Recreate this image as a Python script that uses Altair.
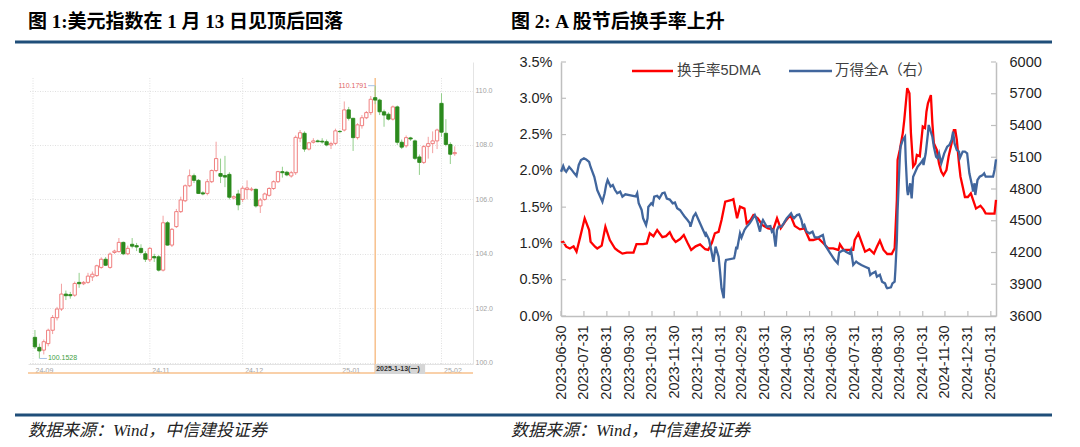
import altair as alt
import numpy as np
import pandas as pd

# ---------------- Figure 1: US dollar index daily candles ----------------
dxy_open = [100.93, 100.56, 100.46, 100.70, 101.19, 101.65, 101.97, 102.52, 102.50, 102.48,
            102.95, 102.90, 102.95, 103.15, 103.20, 103.50, 103.80, 103.50, 104.05, 104.08,
            104.42, 104.00, 104.35, 104.30, 104.20, 104.00, 103.78, 103.90, 103.89, 103.40,
            105.14, 104.32, 105.00, 105.55, 105.95, 106.50, 106.87, 106.70, 106.24, 106.22,
            106.65, 107.06, 106.95, 106.88, 106.92, 106.05, 106.20, 106.00, 106.36, 106.35,
            106.37, 105.76, 106.00, 106.15, 106.40, 106.65, 107.02, 107.00, 106.86, 106.98,
            108.25, 108.43, 107.85, 108.10, 108.15, 108.14, 108.12, 108.00, 108.06, 108.50,
            108.55, 109.29, 108.98, 108.27, 108.71, 109.00, 109.19, 109.74, 109.65, 109.22,
            109.13, 108.95, 109.40, 108.10, 107.97, 108.26, 108.15, 107.56, 107.36, 107.95,
            108.05, 108.15, 109.53, 108.43, 108.02, 107.68]
dxy_high = [101.20, 100.70, 100.85, 101.25, 101.75, 102.05, 102.90, 102.65, 102.60, 102.98,
            103.30, 103.00, 103.30, 103.35, 103.60, 103.87, 103.88, 104.05, 104.15, 104.58,
            104.45, 104.30, 104.58, 104.40, 104.35, 104.10, 104.25, 104.00, 103.95, 105.40,
            105.20, 104.95, 105.65, 106.10, 106.55, 107.10, 106.95, 106.75, 106.30, 106.75,
            107.10, 108.12, 107.50, 107.60, 107.00, 106.15, 106.35, 106.50, 106.70, 106.45,
            106.40, 106.05, 106.25, 106.45, 106.70, 107.05, 107.20, 107.05, 107.05, 108.35,
            108.55, 108.50, 108.10, 108.25, 108.20, 108.25, 108.20, 108.12, 108.60, 108.55,
            109.60, 109.40, 109.00, 108.80, 109.10, 109.25, 109.80, 110.1791, 109.70, 109.30,
            109.20, 109.45, 109.45, 108.20, 108.35, 108.30, 108.20, 107.65, 108.00, 108.30,
            108.50, 108.60, 109.90, 108.95, 108.10, 107.95]
dxy_low = [100.50, 100.1528, 100.30, 100.60, 101.05, 101.55, 101.90, 102.30, 102.35, 102.42,
           102.75, 102.85, 102.90, 103.00, 103.15, 103.45, 103.55, 103.45, 104.00, 104.05,
           103.95, 103.95, 104.20, 104.10, 104.00, 103.70, 103.70, 103.70, 103.35, 103.35,
           104.30, 104.25, 104.95, 105.50, 105.90, 106.45, 106.60, 106.20, 106.15, 106.15,
           106.60, 107.00, 106.60, 106.45, 106.00, 106.00, 105.60, 105.90, 106.00, 106.30,
           105.70, 105.50, 105.95, 106.10, 106.35, 106.60, 106.80, 106.85, 106.80, 106.90,
           108.10, 107.75, 107.80, 108.05, 108.10, 108.05, 107.95, 107.85, 108.00, 108.45,
           108.50, 108.90, 107.78, 108.20, 108.60, 108.95, 109.10, 109.50, 109.10, 108.67,
           108.90, 108.90, 108.00, 107.85, 107.90, 108.15, 107.45, 106.90, 107.30, 107.50,
           107.70, 107.85, 108.30, 107.95, 107.30, 107.60]
dxy_close = [100.58, 100.43, 100.77, 101.19, 101.66, 101.97, 102.52, 102.46, 102.46, 102.91,
             102.90, 102.95, 103.18, 103.25, 103.56, 103.80, 103.58, 103.99, 104.10, 104.42,
             104.00, 104.20, 104.28, 104.25, 104.05, 103.80, 104.20, 103.85, 103.40, 105.14,
             104.32, 104.90, 105.55, 105.98, 106.50, 106.87, 106.70, 106.22, 106.20, 106.65,
             107.06, 107.50, 106.85, 106.82, 106.08, 106.10, 105.80, 106.41, 106.42, 106.38,
             105.76, 105.98, 106.20, 106.40, 106.65, 107.02, 106.98, 106.90, 106.98, 108.28,
             108.45, 107.85, 108.08, 108.15, 108.12, 108.11, 108.00, 108.05, 108.52, 108.49,
             109.29, 108.98, 108.27, 108.74, 109.00, 109.19, 109.68, 109.65, 109.22, 109.10,
             108.95, 109.40, 108.10, 107.92, 108.27, 108.22, 107.51, 107.36, 107.94, 108.05,
             108.15, 108.55, 108.47, 108.02, 107.66, 107.72]

dxy_tick_pos = [-0.44, 26, 47, 69, 92]
dxy_tick_lbl = ["24-09", "24-11", "24-12", "25-01", "25-02"]
dxy_y_ticks = [100, 102, 104, 106, 108, 110]
peak_idx, peak_val = 77, 110.1791
trough_idx, trough_val = 1, 100.1528
marked_idx, marked_lbl = 77, "2025-1-13(一)"

# ---------------- Figure 2: A-share turnover vs Wind All A ----------------
turn_dates = ["2023-06-30", "2023-07-03", "2023-07-07", "2023-07-12", "2023-07-17", "2023-07-21", "2023-07-26", "2023-08-01", "2023-08-07", "2023-08-09",
              "2023-08-15", "2023-08-18", "2023-08-24", "2023-08-29", "2023-09-04", "2023-09-11", "2023-09-15", "2023-09-21", "2023-09-27", "2023-10-06",
              "2023-10-10", "2023-10-19", "2023-10-24", "2023-10-28", "2023-11-02", "2023-11-07", "2023-11-14", "2023-11-19", "2023-11-24", "2023-11-28",
              "2023-12-02", "2023-12-08", "2023-12-13", "2023-12-18", "2023-12-23", "2023-12-29", "2024-01-04", "2024-01-11", "2024-01-15", "2024-01-20",
              "2024-01-24", "2024-01-29", "2024-02-02", "2024-02-07", "2024-02-16", "2024-02-18", "2024-02-23", "2024-02-27", "2024-03-04", "2024-03-07",
              "2024-03-12", "2024-03-16", "2024-03-22", "2024-03-28", "2024-04-05", "2024-04-12", "2024-04-17", "2024-04-22", "2024-04-28", "2024-05-05",
              "2024-05-11", "2024-05-18", "2024-05-24", "2024-05-31", "2024-06-05", "2024-06-12", "2024-06-19", "2024-06-25", "2024-07-02", "2024-07-09",
              "2024-07-11", "2024-07-16", "2024-07-29", "2024-07-31", "2024-08-05", "2024-08-09", "2024-08-14", "2024-08-20", "2024-08-26", "2024-08-30",
              "2024-09-03", "2024-09-08", "2024-09-13", "2024-09-19", "2024-09-23", "2024-09-26", "2024-09-27", "2024-09-30", "2024-10-04", "2024-10-06",
              "2024-10-10", "2024-10-13", "2024-10-15", "2024-10-18", "2024-10-21", "2024-10-23", "2024-10-27", "2024-10-31", "2024-11-03", "2024-11-05",
              "2024-11-07", "2024-11-11", "2024-11-13", "2024-11-15", "2024-11-19", "2024-11-22", "2024-11-25", "2024-11-28", "2024-12-02", "2024-12-05",
              "2024-12-09", "2024-12-12", "2024-12-14", "2024-12-16", "2024-12-19", "2024-12-21", "2024-12-24", "2024-12-27", "2024-12-31", "2025-01-04",
              "2025-01-07", "2025-01-11", "2025-01-14", "2025-01-17", "2025-01-21", "2025-01-24", "2025-01-29", "2025-02-05", "2025-02-07"]
turn_pct = [1.01, 1.02, 0.955, 0.93, 0.96, 0.886, 1.09, 1.346, 1.185, 1.024,
            0.955, 0.93, 0.97, 1.23, 1.047, 0.93, 0.90, 0.86, 0.874, 0.874,
            0.99, 0.99, 1.00, 1.14, 1.10, 1.185, 1.086, 1.10, 1.153, 1.07,
            1.02, 1.06, 1.116, 1.01, 0.91, 0.96, 0.987, 0.92, 0.91, 1.01,
            1.14, 1.16, 1.323, 1.575, 1.60, 1.61, 1.346, 1.506, 1.48, 1.277,
            1.32, 1.39, 1.346, 1.254, 1.208, 1.194, 1.346, 1.208, 1.30, 1.39,
            1.24, 1.194, 1.208, 1.047, 1.047, 1.07, 1.00, 0.933, 0.933, 0.91,
            0.987, 0.91, 0.91, 1.047, 1.14, 1.024, 0.886, 0.92, 0.86, 0.955,
            1.038, 0.91, 0.854, 0.854, 0.933, 1.60, 2.15, 2.29, 2.52, 2.70,
            3.14, 3.07, 2.52, 2.06, 2.10, 2.22, 2.20, 2.61, 2.59, 2.815,
            2.93, 3.045, 2.655, 2.38, 2.29, 2.10, 1.99, 1.94, 2.01, 2.20,
            2.38, 2.56, 2.56, 2.43, 2.10, 1.92, 1.78, 1.64, 1.64, 1.69,
            1.60, 1.48, 1.50, 1.52, 1.47, 1.415, 1.41, 1.41, 1.60]

wind_dates = ["2023-06-30", "2023-07-03", "2023-07-05", "2023-07-07", "2023-07-11", "2023-07-14", "2023-07-18", "2023-07-21", "2023-07-24", "2023-07-27",
              "2023-07-31", "2023-08-03", "2023-08-07", "2023-08-09", "2023-08-14", "2023-08-16", "2023-08-18", "2023-08-22", "2023-08-25", "2023-08-28",
              "2023-08-30", "2023-09-01", "2023-09-05", "2023-09-08", "2023-09-11", "2023-09-14", "2023-09-18", "2023-09-21", "2023-09-25", "2023-10-02",
              "2023-10-09", "2023-10-11", "2023-10-13", "2023-10-17", "2023-10-19", "2023-10-23", "2023-10-25", "2023-10-26", "2023-10-30", "2023-11-01",
              "2023-11-03", "2023-11-07", "2023-11-10", "2023-11-14", "2023-11-17", "2023-11-20", "2023-11-24", "2023-11-28", "2023-12-01", "2023-12-04",
              "2023-12-08", "2023-12-11", "2023-12-14", "2023-12-18", "2023-12-21", "2023-12-22", "2023-12-26", "2023-12-29", "2024-01-02", "2024-01-05",
              "2024-01-08", "2024-01-11", "2024-01-12", "2024-01-16", "2024-01-19", "2024-01-22", "2024-01-25", "2024-01-29", "2024-01-31", "2024-02-02",
              "2024-02-05", "2024-02-06", "2024-02-07", "2024-02-08", "2024-02-19", "2024-02-20", "2024-02-22", "2024-02-23", "2024-02-27", "2024-02-29",
              "2024-03-04", "2024-03-07", "2024-03-11", "2024-03-14", "2024-03-18", "2024-03-20", "2024-03-22", "2024-03-25", "2024-03-27", "2024-03-29",
              "2024-04-03", "2024-04-08", "2024-04-10", "2024-04-12", "2024-04-15", "2024-04-17", "2024-04-19", "2024-04-23", "2024-04-26", "2024-04-30",
              "2024-05-06", "2024-05-08", "2024-05-10", "2024-05-14", "2024-05-17", "2024-05-20", "2024-05-22", "2024-05-24", "2024-05-27", "2024-05-31",
              "2024-06-04", "2024-06-07", "2024-06-12", "2024-06-18", "2024-06-21", "2024-06-25", "2024-06-28", "2024-07-04", "2024-07-08", "2024-07-10",
              "2024-07-16", "2024-07-19", "2024-07-24", "2024-07-26", "2024-07-29", "2024-08-02", "2024-08-05", "2024-08-09", "2024-08-14", "2024-08-19",
              "2024-08-21", "2024-08-23", "2024-08-28", "2024-08-30", "2024-09-03", "2024-09-06", "2024-09-10", "2024-09-12", "2024-09-13", "2024-09-18",
              "2024-09-20", "2024-09-23", "2024-09-24", "2024-09-26", "2024-09-27", "2024-09-30", "2024-10-01", "2024-10-04", "2024-10-07", "2024-10-08",
              "2024-10-10", "2024-10-11", "2024-10-14", "2024-10-16", "2024-10-18", "2024-10-21", "2024-10-24", "2024-10-28", "2024-10-31", "2024-11-01",
              "2024-11-04", "2024-11-07", "2024-11-08", "2024-11-13", "2024-11-15", "2024-11-18", "2024-11-20", "2024-11-22", "2024-11-25", "2024-11-27",
              "2024-11-29", "2024-12-03", "2024-12-06", "2024-12-09", "2024-12-11", "2024-12-13", "2024-12-16", "2024-12-19", "2024-12-20", "2024-12-24",
              "2024-12-27", "2024-12-30", "2025-01-02", "2025-01-06", "2025-01-07", "2025-01-09", "2025-01-10", "2025-01-13", "2025-01-16", "2025-01-20",
              "2025-01-22", "2025-01-24", "2025-01-27", "2025-02-03", "2025-02-05", "2025-02-07"]
wind_a = [4963, 5017, 4980, 4963, 5008, 4985, 4948, 4923, 5027, 5074,
          5090, 5080, 5055, 5008, 4916, 4854, 4790, 4727, 4680, 4760,
          4838, 4885, 4823, 4838, 4790, 4760, 4775, 4728, 4750, 4740,
          4730, 4760, 4665, 4602, 4523, 4460, 4523, 4630, 4665, 4650,
          4728, 4735, 4712, 4760, 4765, 4710, 4700, 4665, 4672, 4618,
          4600, 4570, 4540, 4507, 4477, 4444, 4540, 4570, 4507, 4460,
          4413, 4365, 4380, 4325, 4224, 4113, 4255, 4160, 4019, 3862,
          3767, 3940, 4098, 4130, 4145, 4176, 4255, 4230, 4381, 4340,
          4413, 4444, 4475, 4507, 4554, 4520, 4475, 4397, 4475, 4507,
          4444, 4450, 4397, 4413, 4255, 4413, 4444, 4444, 4475, 4523,
          4570, 4540, 4523, 4554, 4560, 4507, 4444, 4460, 4397, 4381,
          4397, 4343, 4343, 4365, 4271, 4224, 4192, 4129, 4098, 4200,
          4224, 4208, 4190, 4224, 4082, 4114, 4098, 4082, 4066, 4050,
          3987, 4000, 4019, 3972, 3990, 3924, 3908, 3871, 3862, 3871,
          3908, 3924, 4035, 4318, 4602, 5105, 5200, 5263, 5294, 5074,
          4790, 4743, 4854, 4712, 4916, 4963, 5011, 5043, 5074, 5027,
          5137, 5326, 5405, 5294, 5200, 5105, 5090, 5137, 5043, 5090,
          5137, 5200, 5216, 5263, 5342, 5230, 5168, 5153, 5090, 5153,
          5153, 5137, 4948, 4822, 4775, 4854, 4743, 4885, 4916, 4932,
          4948, 4916, 4916, 4916, 4980, 5080]

month_ends = ["2023-06-30", "2023-07-31", "2023-08-31", "2023-09-30", "2023-10-31", "2023-11-30",
              "2023-12-31", "2024-01-31", "2024-02-29", "2024-03-31", "2024-04-30", "2024-05-31",
              "2024-06-30", "2024-07-31", "2024-08-31", "2024-09-30", "2024-10-31", "2024-11-30",
              "2024-12-31", "2025-01-31"]
pct_ticks = [0.0, 0.5, 1.0, 1.5, 2.0, 2.5, 3.0, 3.5]
wind_ticks = [3600, 3900, 4200, 4500, 4800, 5100, 5400, 5700, 6000]
x_start, x_end = "2023-06-30", "2025-02-07"

title_left = "图 1:美元指数在 1 月 13 日见顶后回落"
title_right = "图 2: A 股节后换手率上升"
source_text = "数据来源：Wind，中信建投证券"
legend_red = "换手率5DMA"
legend_blue = "万得全A（右）"

# ---------------- layout & style ----------------
W1, H1 = 445, 302
W2, H2 = 435, 254
SANS = "Liberation Sans, Noto Sans CJK SC"
SERIF = "Liberation Serif, Noto Sans CJK SC"
AX = "#bfbfbf"
RED = "#ff0000"
BLUE = "#41669d"
NAVY = "#1f4e79"
one = pd.DataFrame({"k": [0]})

# ================= left panel =================
candles = pd.DataFrame({"idx": np.arange(len(dxy_open)), "open": dxy_open, "high": dxy_high,
                        "low": dxy_low, "close": dxy_close})
candles["dir"] = np.where(candles["close"] >= candles["open"], "up", "down")

xL_scale = alt.Scale(domain=[-0.44, 98.0], nice=False, zero=False)
yL_scale = alt.Scale(domain=[99.95, 111.05], nice=False, zero=False)
lbl_expr = f"'{dxy_tick_lbl[-1]}'"
for v, l in zip(reversed(dxy_tick_pos[:-1]), reversed(dxy_tick_lbl[:-1])):
    lbl_expr = f"abs(datum.value - ({v})) < 0.5 ? '{l}' : {lbl_expr}"
xL_axis = alt.Axis(values=dxy_tick_pos, labelExpr=lbl_expr, title=None, grid=False, ticks=False,
                   domainColor="#e4e4e4", labelColor="#a3a3a3", labelFont="Liberation Sans",
                   labelFontSize=7, labelAlign="left", labelBaseline="top", labelOffset=2,
                   labelPadding=2, labelOverlap=False, labelFlush=False)
yL_axis = alt.Axis(orient="right", values=dxy_y_ticks, format=".1f", title=None, grid=True,
                   gridColor="#e0e0e0", gridDash=[1, 1.5], ticks=False, domainColor="#e4e4e4",
                   labelColor="#a3a3a3", labelFont="Liberation Sans", labelFontSize=7,
                   labelPadding=2, labelOverlap=False, labelFlush=False)


def xL(field="idx"):
    return alt.X(f"{field}:Q", scale=xL_scale, axis=xL_axis)


def yL(field):
    return alt.Y(f"{field}:Q", scale=yL_scale, axis=yL_axis)


anchor = alt.Chart(one).mark_rect(color="white").encode(
    x=alt.value(-20), x2=alt.value(-19), y=alt.value(-54), y2=alt.value(-53))

vgrid = alt.Chart(pd.DataFrame({"idx": dxy_tick_pos})).mark_rule(
    color="#e0e0e0", strokeDash=[1, 1.5], strokeWidth=1).encode(
    x=xL(), y=alt.value(16), y2=alt.value(H1))

marked = pd.DataFrame({"idx": [marked_idx], "lbl": [marked_lbl]})
orange_v = alt.Chart(marked).mark_rule(color="#f7c08c", strokeWidth=1.5).encode(
    x=xL(), y=alt.value(16), y2=alt.value(311))
orange_h = alt.Chart(one).mark_rule(color="#f7c08c", strokeWidth=1.5).encode(
    x=alt.value(0), x2=alt.value(W1), y=alt.value(311))
mark_box = alt.Chart(marked).transform_calculate(idx_end="datum.idx + 11.3").mark_rect(
    color="#d6d6d6").encode(x=xL(), x2="idx_end:Q", y=alt.value(302), y2=alt.value(312))
mark_txt = alt.Chart(marked).mark_text(align="left", baseline="middle", fontSize=7,
                                       fontWeight="bold", font=SANS, color="#333333", dx=1).encode(
    x=xL(), y=alt.value(307), text="lbl:N")

wick = alt.Chart(candles).mark_rule(strokeWidth=1).encode(
    x=xL(), y=yL("low"), y2="high:Q",
    color=alt.Color("dir:N", scale=alt.Scale(domain=["up", "down"], range=["#f3a0a0", "#93cf8b"]),
                    legend=None))
body = alt.Chart(candles).mark_bar(size=3.3, strokeWidth=0.9).encode(
    x=xL(), y=yL("open"), y2="close:Q",
    fill=alt.Fill("dir:N", scale=alt.Scale(domain=["up", "down"], range=["#ffffff", "#2b8a1d"]),
                  legend=None),
    stroke=alt.Stroke("dir:N", scale=alt.Scale(domain=["up", "down"], range=["#ee7272", "#2b8a1d"]),
                      legend=None))

peak_df = pd.DataFrame({"idx": [peak_idx], "val": [peak_val], "lbl": [f"{peak_val:.4f}"]})
peak_rule = alt.Chart(peak_df).transform_calculate(xs="datum.idx - 1.6").mark_rule(
    color="#a7c3e6", strokeWidth=1).encode(x=xL("xs"), x2="idx:Q", y=yL("val"))
peak_txt = alt.Chart(peak_df).transform_calculate(xs="datum.idx - 1.6").mark_text(
    align="right", baseline="middle", fontSize=7, font=SANS, color="#e06666", dx=-1).encode(
    x=xL("xs"), y=yL("val"), text="lbl:N")
trough_df = pd.DataFrame({"idx": [trough_idx], "val": [trough_val], "lbl": [f"{trough_val:.4f}"]})
trough_rule = alt.Chart(trough_df).transform_calculate(xe="datum.idx + 1.7").mark_rule(
    color="#a7c3e6", strokeWidth=1).encode(x=xL("idx"), x2="xe:Q", y=yL("val"))
trough_txt = alt.Chart(trough_df).transform_calculate(xe="datum.idx + 1.7").mark_text(
    align="left", baseline="middle", fontSize=7, font=SANS, color="#43a043", dx=1).encode(
    x=xL("xe"), y=yL("val"), text="lbl:N")

title1 = alt.Chart(one).mark_text(align="left", baseline="middle", fontSize=19, fontWeight="bold",
                                  font=SERIF, color="#000000").encode(
    x=alt.value(0), y=alt.value(-40), text=alt.value(title_left))
rule_top = alt.Chart(one).mark_rule(color=NAVY, strokeWidth=3).encode(
    x=alt.value(-13), x2=alt.value(1024), y=alt.value(-20))
rule_bot = alt.Chart(one).mark_rule(color=NAVY, strokeWidth=3).encode(
    x=alt.value(-13), x2=alt.value(1024), y=alt.value(353))
foot1 = alt.Chart(one).mark_text(align="left", baseline="middle", fontSize=17, fontStyle="italic",
                                 font=SERIF, color="#222222").encode(
    x=alt.value(0), y=alt.value(369), text=alt.value(source_text))

left = alt.layer(anchor, vgrid, orange_v, orange_h, wick, body, mark_box, mark_txt,
                 peak_rule, peak_txt, trough_rule, trough_txt,
                 title1, rule_top, rule_bot, foot1).properties(width=W1, height=H1)

# ================= right panel =================
def ms(s):
    return int(pd.Timestamp(s, tz="UTC").value // 10**6)


turn_df = pd.DataFrame({"date": turn_dates, "pct": turn_pct})
wind_df = pd.DataFrame({"date": wind_dates, "val": wind_a})

xR_scale = alt.Scale(type="utc", domain=[ms(x_start), ms(x_end)], nice=False)
xR_axis = alt.Axis(values=[ms(d) for d in month_ends],
                   labelExpr="utcFormat(datum.value, '%Y-%m-%d')",
                   labelAngle=270, title=None, grid=False, ticks=False, domainColor=AX,
                   domainWidth=1.5, labelColor="#1f1f1f", labelFont="Liberation Sans",
                   labelFontSize=14.5, labelPadding=9, labelOverlap=False, labelFlush=False)
y1_scale = alt.Scale(domain=[0, 3.5], nice=False, zero=False)
y1_axis = alt.Axis(orient="left", values=pct_ticks, labelExpr="format(datum.value, '.1f') + '%'",
                   title=None, grid=False, ticks=False, domainColor=AX, domainWidth=1.5,
                   labelColor="#1f1f1f", labelFont="Liberation Sans", labelFontSize=14.5,
                   labelPadding=9, labelOverlap=False, labelFlush=False)
y2_scale = alt.Scale(domain=[3600, 6000], nice=False, zero=False)
y2_axis = alt.Axis(orient="right", values=wind_ticks, format="d", title=None, grid=False,
                   ticks=False, domainColor=AX, domainWidth=1.5, labelColor="#1f1f1f",
                   labelFont="Liberation Sans", labelFontSize=14.5, labelPadding=13,
                   labelOverlap=False, labelFlush=False)


def xR():
    return alt.X("date:T", scale=xR_scale, axis=xR_axis)


red_line = alt.Chart(turn_df).mark_line(color=RED, strokeWidth=2.3).encode(
    x=xR(), y=alt.Y("pct:Q", scale=y1_scale, axis=y1_axis))
left_ticks = alt.Chart(pd.DataFrame({"pct": pct_ticks})).mark_rule(color=AX, strokeWidth=1.2).encode(
    x=alt.value(0), x2=alt.value(5), y=alt.Y("pct:Q", scale=y1_scale, axis=y1_axis))
bottom_ticks = alt.Chart(pd.DataFrame({"date": month_ends})).mark_rule(color=AX, strokeWidth=1.2).encode(
    x=xR(), y=alt.value(H2 - 5), y2=alt.value(H2))
red_group = alt.layer(red_line, left_ticks, bottom_ticks)

blue_line = alt.Chart(wind_df).mark_line(color=BLUE, strokeWidth=2.3).encode(
    x=xR(), y=alt.Y("val:Q", scale=y2_scale, axis=y2_axis))
right_ticks = alt.Chart(pd.DataFrame({"val": wind_ticks})).mark_rule(color=AX, strokeWidth=1.2).encode(
    x=alt.value(W2 - 5), x2=alt.value(W2), y=alt.Y("val:Q", scale=y2_scale, axis=y2_axis))
blue_group = alt.layer(blue_line, right_ticks)

leg_r = alt.Chart(one).mark_rule(color=RED, strokeWidth=2.3).encode(
    x=alt.value(71), x2=alt.value(112), y=alt.value(9))
leg_rt = alt.Chart(one).mark_text(align="left", baseline="middle", fontSize=14.5, font=SANS,
                                  color="#404040").encode(
    x=alt.value(116), y=alt.value(9), text=alt.value(legend_red))
leg_b = alt.Chart(one).mark_rule(color=BLUE, strokeWidth=2.3).encode(
    x=alt.value(228), x2=alt.value(271), y=alt.value(9))
leg_bt = alt.Chart(one).mark_text(align="left", baseline="middle", fontSize=14.5, font=SANS,
                                  color="#404040").encode(
    x=alt.value(274), y=alt.value(9), text=alt.value(legend_blue))
title2 = alt.Chart(one).mark_text(align="left", baseline="middle", fontSize=19, fontWeight="bold",
                                  font=SERIF, color="#000000").encode(
    x=alt.value(-50), y=alt.value(-40), text=alt.value(title_right))
foot2 = alt.Chart(one).mark_text(align="left", baseline="middle", fontSize=17, fontStyle="italic",
                                 font=SERIF, color="#222222").encode(
    x=alt.value(-50), y=alt.value(369), text=alt.value(source_text))

right = alt.layer(red_group, blue_group, leg_r, leg_rt, leg_b, leg_bt, title2, foot2).resolve_scale(
    y="independent").properties(width=W2, height=H2)

chart = alt.hconcat(left, right, spacing=88, bounds="flush").properties(
    padding=0, background="white").configure_view(stroke=None)

chart.save("out.html", embed_options={"renderer": "svg", "actions": False})
